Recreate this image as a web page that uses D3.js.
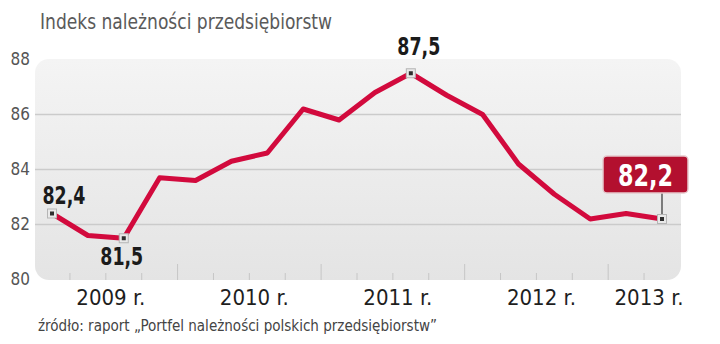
<!DOCTYPE html>
<html><head><meta charset="utf-8">
<script src="https://cdn.jsdelivr.net/npm/d3@7/dist/d3.min.js"></script>
<style>
html,body{margin:0;padding:0;background:#fff;}
svg{display:block;}
text{font-family:"Liberation Sans Narrow","DejaVu Sans Condensed","Liberation Sans",sans-serif;}
</style></head>
<body>
<svg id="chart" width="720" height="344"></svg>
<script>
const title = "Indeks należności przedsiębiorstw";
const source = "źródło: raport „Portfel należności polskich przedsiębiorstw”";
const quarters = ["2009 Q1","2009 Q2","2009 Q3","2009 Q4","2010 Q1","2010 Q2","2010 Q3","2010 Q4","2011 Q1","2011 Q2","2011 Q3","2011 Q4","2012 Q1","2012 Q2","2012 Q3","2012 Q4","2013 Q1","2013 Q2"];
const values = [82.4,81.6,81.5,83.7,83.6,84.3,84.6,86.2,85.8,86.8,87.5,86.7,86.0,84.2,83.1,82.2,82.4,82.2];
const years = ["2009 r.","2010 r.","2011 r.","2012 r.","2013 r."];
const yTicks = [80,82,84,86,88];
const labelled = [0,2,10];
const highlight = 17;

const svg = d3.select("#chart");
const x = d3.scaleLinear().domain([0, quarters.length-1]).range([52, 662]);
const y = d3.scaleLinear().domain([80, 88]).range([279.5, 59.5]);
const panel = {x0: 35, x1: 681, y0: 59, y1: 280};

const defs = svg.append("defs");
const grad = defs.append("linearGradient").attr("id","bg").attr("x1",0).attr("y1",0).attr("x2",0).attr("y2",1);
grad.append("stop").attr("offset","0%").attr("stop-color","#f4f4f4");
grad.append("stop").attr("offset","100%").attr("stop-color","#e4e4e4");

// title
svg.append("text").attr("x",40).attr("y",29).attr("font-size",21).attr("fill","#5a5a5a")
  .attr("textLength",292).attr("lengthAdjust","spacingAndGlyphs").text(title);

// panel
svg.append("rect").attr("x",panel.x0).attr("y",panel.y0).attr("width",panel.x1-panel.x0)
  .attr("height",panel.y1-panel.y0).attr("rx",14).attr("fill","url(#bg)");

// gridlines
svg.append("g").selectAll("line").data(yTicks.filter(v=>v>80 && v<88)).join("line")
  .attr("x1",panel.x0).attr("x2",panel.x1).attr("y1",d=>y(d)).attr("y2",d=>y(d))
  .attr("stroke","#cbcbcb").attr("stroke-width",1.5);

// y labels
svg.append("g").selectAll("text").data(yTicks).join("text")
  .attr("x",30).attr("y",d=>y(d)).attr("dy","0.35em").attr("text-anchor","end")
  .attr("font-family","Liberation Sans, Arial, sans-serif")
  .attr("font-size",17).attr("fill","#555").text(d=>d);

// x ticks (between quarters)
const tickIdx = d3.range(0, quarters.length-1).map(i=>i+0.5);
svg.append("g").selectAll("line").data(tickIdx).join("line")
  .attr("x1",d=>x(d)).attr("x2",d=>x(d))
  .attr("y1",d=>((d+0.5)%4===0)?264:273).attr("y2",280)
  .attr("stroke","#c6c6c6").attr("stroke-width",1);

// year labels centred on their quarters
const yearCenters = years.map((yr,k)=>{
  const idx = quarters.map((q,i)=>[q,i]).filter(([q])=>q.startsWith(yr.slice(0,4))).map(d=>d[1]);
  return d3.mean(idx);
});
svg.append("g").selectAll("text").data(years).join("text")
  .attr("x",(d,k)=>x(yearCenters[k])+5).attr("y",305).attr("text-anchor","middle")
  .attr("font-size",22).attr("fill","#1e1e1e").text(d=>d);

// line
const line = d3.line().x((d,i)=>x(i)).y(d=>y(d));
svg.append("path").datum(values).attr("d",line).attr("fill","none")
  .attr("stroke","#d20a3d").attr("stroke-width",5).attr("stroke-linejoin","round");

// connector for highlight label
svg.append("line").attr("x1",x(highlight)).attr("x2",x(highlight)).attr("y1",192).attr("y2",y(values[highlight]))
  .attr("stroke","#333").attr("stroke-width",1.2);

// markers
const markers = labelled.concat([highlight]);
const mg = svg.append("g").selectAll("g").data(markers).join("g")
  .attr("transform",i=>`translate(${x(i)},${y(values[i])})`);
mg.append("rect").attr("x",-4.5).attr("y",-4.5).attr("width",9).attr("height",9)
  .attr("fill","#e9e9e9").attr("stroke","#b5b5b5").attr("stroke-width",1);
mg.append("rect").attr("x",-2).attr("y",-2).attr("width",4).attr("height",4).attr("fill","#2e2e2e");

// value labels
const fmt = v => d3.format(".1f")(v).replace(".",",");
const labelPos = {0:{dx:12,dy:-10}, 2:{dx:-2,dy:27}, 10:{dx:8,dy:-18}};
svg.append("g").selectAll("text").data(labelled).join("text")
  .attr("x",i=>x(i)+labelPos[i].dx).attr("y",i=>y(values[i])+labelPos[i].dy)
  .attr("text-anchor","middle").attr("font-size",24).attr("font-weight","bold")
  .attr("fill","#1b1b1b").attr("textLength",43).attr("lengthAdjust","spacingAndGlyphs")
  .text(i=>fmt(values[i]));

// highlight box
svg.append("rect").attr("x",603).attr("y",156).attr("width",85).attr("height",37).attr("rx",4)
  .attr("fill","#b3102f").attr("stroke","#e6c9cd").attr("stroke-width",1.5);
svg.append("text").attr("x",645.5).attr("y",186).attr("text-anchor","middle")
  .attr("font-size",30).attr("font-weight","bold").attr("fill","#fff")
  .attr("textLength",55).attr("lengthAdjust","spacingAndGlyphs").text(fmt(values[highlight]));

// source
svg.append("text").attr("x",38).attr("y",331).attr("font-size",16).attr("fill","#444")
  .attr("textLength",399).attr("lengthAdjust","spacingAndGlyphs").text(source);
</script>
</body></html>
